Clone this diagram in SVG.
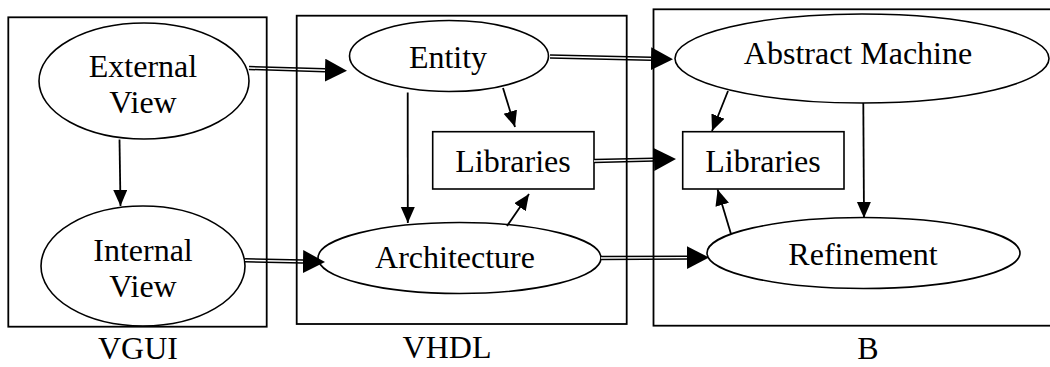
<svg xmlns="http://www.w3.org/2000/svg" width="1050" height="367" viewBox="0 0 1050 367">
  <style>
    .frame { fill: none; stroke: #000; stroke-width: 1.8; }
    .node ellipse, .node rect { fill: #fff; stroke: #000; stroke-width: 1.6; }
    text { font-family: "Liberation Serif", "Times New Roman", serif; font-size: 32px; fill: #000; text-anchor: middle; }
    .single { fill: none; stroke: #000; stroke-width: 1.8; marker-end: url(#head); }
    .double { fill: none; stroke: #000; stroke-width: 4.4; marker-end: url(#bighead); }
    .gap { fill: none; stroke: #fff; stroke-width: 1.4; }
  </style>
  <defs>
    <!-- small head: tip sits on the line end -->
    <marker id="head" markerUnits="userSpaceOnUse" markerWidth="17" markerHeight="15" refX="16" refY="7" orient="auto">
      <path d="M0,0 L16,7 L0,14 Z" fill="#000"/>
    </marker>
    <!-- large head for double lines: base sits on the line end -->
    <marker id="bighead" markerUnits="userSpaceOnUse" markerWidth="23" markerHeight="24" refX="0" refY="11.5" orient="auto">
      <path d="M0,0 L22,11.5 L0,23 Z" fill="#000"/>
    </marker>
  </defs>

  <!-- nodes -->
  <g id="external-view" class="node">
    <ellipse cx="144" cy="81" rx="105" ry="58"/>
    <text x="143" y="77">External</text>
    <text x="143" y="113">View</text>
  </g>
  <g id="internal-view" class="node">
    <ellipse cx="143" cy="266" rx="102" ry="60"/>
    <text x="143" y="261">Internal</text>
    <text x="143" y="297">View</text>
  </g>
  <g id="entity" class="node">
    <ellipse cx="449" cy="56" rx="99.5" ry="35.5"/>
    <text x="448" y="68">Entity</text>
  </g>
  <g id="vhdl-libraries" class="node">
    <rect x="432.7" y="131.7" width="161.3" height="57.3"/>
    <text x="513" y="172">Libraries</text>
  </g>
  <g id="architecture" class="node">
    <ellipse cx="459.5" cy="258" rx="141.5" ry="35.5"/>
    <text x="455" y="268">Architecture</text>
  </g>
  <g id="abstract-machine" class="node">
    <ellipse cx="862" cy="58.5" rx="187" ry="44.5"/>
    <text x="858" y="64">Abstract Machine</text>
  </g>
  <g id="b-libraries" class="node">
    <rect x="682.7" y="131.7" width="161.3" height="57.3"/>
    <text x="763" y="172">Libraries</text>
  </g>
  <g id="refinement" class="node">
    <ellipse cx="863.5" cy="253" rx="156.5" ry="35.5"/>
    <text x="863" y="265">Refinement</text>
  </g>

  <!-- connectors -->
  <g id="connectors">
    <path class="single" d="M119.5,139.5 L120.5,206"/>
    <path class="single" d="M407.7,92.5 L407.8,223"/>
    <path class="single" d="M503,88 L515,127"/>
    <path class="single" d="M507,226 L529,194"/>
    <path class="single" d="M728,91 L712,131"/>
    <path class="single" d="M863.3,103 L864,218"/>
    <path class="single" d="M731,234 L717.6,189.5"/>

    <path class="double" d="M249,68 L325,70.2"/>
    <path class="gap" d="M249,68 L325,70.2"/>
    <path class="double" d="M550,56.5 L651,58.7"/>
    <path class="gap" d="M550,56.5 L651,58.7"/>
    <path class="double" d="M594,161 L654,159.6"/>
    <path class="gap" d="M594,161 L654,159.6"/>
    <path class="double" d="M245,260.3 L303,261.5"/>
    <path class="gap" d="M245,260.3 L303,261.5"/>
    <path class="double" d="M601,258 L687,257.6"/>
    <path class="gap" d="M601,258 L687,257.6"/>
  </g>

  <!-- framing boxes and their captions -->
  <g id="vgui">
    <rect class="frame" x="8.3" y="17.3" width="258.4" height="309.4"/>
    <text x="138" y="359">VGUI</text>
  </g>
  <g id="vhdl">
    <rect class="frame" x="296.7" y="15.7" width="330" height="308.3"/>
    <text x="447" y="358">VHDL</text>
  </g>
  <g id="b">
    <rect class="frame" x="653.5" y="9.3" width="420" height="316.4"/>
    <text x="868" y="359">B</text>
  </g>
</svg>
